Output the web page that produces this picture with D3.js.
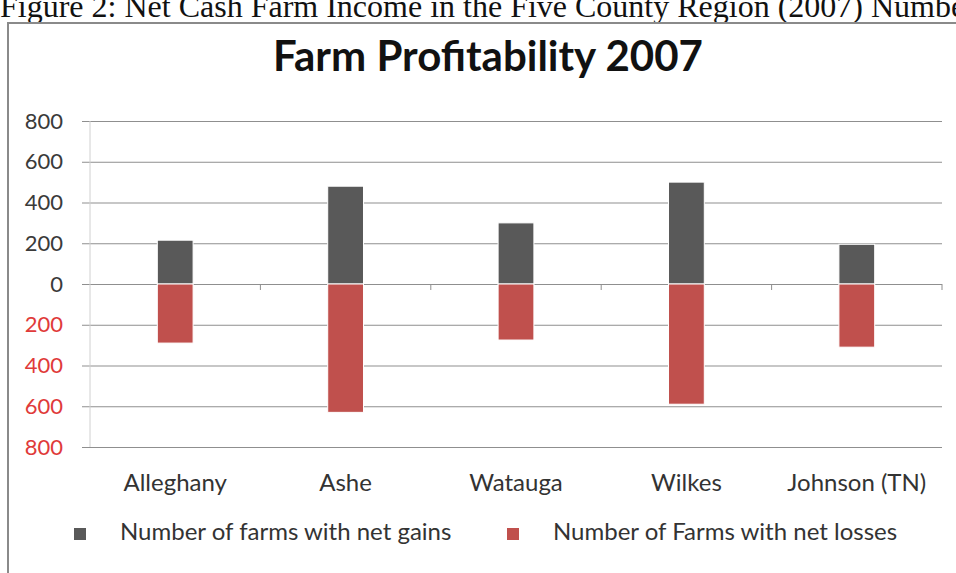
<!DOCTYPE html>
<html>
<head>
<meta charset="utf-8">
<script src="https://cdn.jsdelivr.net/npm/d3@7"></script>
<style>
  body { margin: 0; background: #fff; overflow: hidden; }
  svg { display: block; }
  .grid line { stroke: #8f8f8f; }
  .grid .domain { display: none; }
</style>
</head>
<body>
<svg id="chart" width="956" height="573"></svg>
<script>
// data
var categories = ['Alleghany', 'Ashe', 'Watauga', 'Wilkes', 'Johnson (TN)'];
var gains = [215, 480, 300, 500, 195];
var losses = [290, 630, 275, 590, 310];
var yTicks = [-800, -600, -400, -200, 0, 200, 400, 600, 800];
var seriesNames = ['Number of farms with net gains', 'Number of Farms with net losses'];
var seriesColors = ['#595959', '#c0504d'];

function drawChart() {
  var svg = d3.select('#chart');
  var font = 'Lato, "Open Sans", sans-serif';

  // header line of the page, cut off at the top
  svg.append('text')
    .attr('x', 0).attr('y', 17)
    .style('font-family', '"Liberation Serif", serif')
    .style('font-size', '32px')
    .attr('fill', '#111')
    .text('Figure 2: Net Cash Farm Income in the Five County Region (2007) Number of Farms');

  // chart frame
  svg.append('rect')
    .attr('x', 8).attr('y', 23)
    .attr('width', 960).attr('height', 560)
    .attr('fill', '#fff')
    .attr('stroke', '#8a8a8a')
    .attr('stroke-width', 2);

  // title
  svg.append('text')
    .attr('x', 488).attr('y', 71)
    .attr('text-anchor', 'middle')
    .style('font-family', font)
    .style('font-weight', 'bold')
    .style('font-size', '42px')
    .attr('fill', '#111')
    .text('Farm Profitability 2007');

  var plotLeft = 90, plotRight = 942, plotTop = 121, plotBottom = 447;

  var x = d3.scaleBand()
    .domain(categories)
    .range([plotLeft, plotRight])
    .padding(0);

  var y = d3.scaleLinear()
    .domain([-800, 800])
    .range([plotBottom, plotTop]);

  // gridlines + y labels
  var grid = svg.append('g')
    .attr('class', 'grid')
    .attr('transform', 'translate(' + plotRight + ',0)')
    .call(d3.axisLeft(y).tickValues(yTicks).tickSize(plotRight - 82).tickPadding(19));

  grid.selectAll('.tick text')
    .text(function(d) { return Math.abs(d); })
    .style('font-family', font)
    .style('font-size', '22px')
    .attr('fill', function(d) { return d < 0 ? '#e03a3a' : '#3a3a3a'; });

  // vertical axis line
  svg.append('line')
    .attr('x1', plotLeft).attr('x2', plotLeft)
    .attr('y1', plotTop).attr('y2', plotBottom)
    .attr('stroke', '#d0d0d0');

  // category tick marks on the zero line
  svg.selectAll('.cat-tick')
    .data(categories)
    .enter().append('line')
    .attr('class', 'cat-tick')
    .attr('x1', function(d) { return x(d) + x.bandwidth(); })
    .attr('x2', function(d) { return x(d) + x.bandwidth(); })
    .attr('y1', y(0)).attr('y2', y(0) + 6)
    .attr('stroke', '#8f8f8f');

  var barW = x.bandwidth() * 0.21;

  // gains (up)
  svg.selectAll('.gain-bar')
    .data(categories)
    .enter().append('rect')
    .attr('class', 'gain-bar')
    .attr('x', function(d) { return x(d) + (x.bandwidth() - barW) / 2; })
    .attr('y', function(d, i) { return y(gains[i]); })
    .attr('width', barW)
    .attr('height', function(d, i) { return y(0) - y(gains[i]); })
    .attr('fill', seriesColors[0])
    .attr('stroke', '#fff');

  // losses (down)
  svg.selectAll('.loss-bar')
    .data(categories)
    .enter().append('rect')
    .attr('class', 'loss-bar')
    .attr('x', function(d) { return x(d) + (x.bandwidth() - barW) / 2; })
    .attr('y', y(0))
    .attr('width', barW)
    .attr('height', function(d, i) { return y(-losses[i]) - y(0); })
    .attr('fill', seriesColors[1])
    .attr('stroke', '#fff');

  // category labels
  svg.selectAll('.cat-label')
    .data(categories)
    .enter().append('text')
    .attr('class', 'cat-label')
    .attr('x', function(d) { return x(d) + x.bandwidth() / 2; })
    .attr('y', 491)
    .attr('text-anchor', 'middle')
    .style('font-family', font)
    .style('font-size', '24px')
    .attr('fill', '#333')
    .text(function(d) { return d; });

  // legend
  var legendX = [74, 507];
  var legend = svg.selectAll('.legend')
    .data(seriesNames)
    .enter().append('g')
    .attr('class', 'legend')
    .attr('transform', function(d, i) { return 'translate(' + legendX[i] + ',528)'; });

  legend.append('rect')
    .attr('width', 12).attr('height', 12)
    .attr('fill', function(d, i) { return seriesColors[i]; });

  legend.append('text')
    .attr('x', 46).attr('y', 12)
    .style('font-family', font)
    .style('font-size', '24px')
    .attr('fill', '#333')
    .text(function(d) { return d; });
}

drawChart();
</script>
</body>
</html>
